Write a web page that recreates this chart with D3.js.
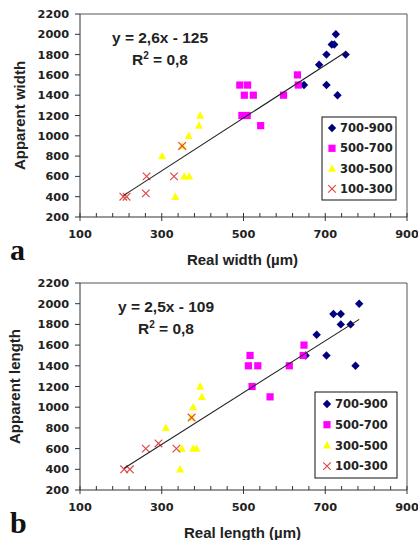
<!DOCTYPE html>
<html><head><meta charset="utf-8">
<script src="https://cdn.jsdelivr.net/npm/d3@7"></script>
<style>
html,body{margin:0;padding:0;background:#fff;}
svg{display:block;}
</style></head>
<body>
<svg id="c" width="418" height="540"></svg>
<script>
// ---- data ----
const seriesNames = ["700-900", "500-700", "300-500", "100-300"];
const xTicks = [100, 300, 500, 700, 900];
const yTicks = [200, 400, 600, 800, 1000, 1200, 1400, 1600, 1800, 2000, 2200];

// chart a : real width vs apparent width
const widthBlue = [[726,2000],[716,1900],[722,1900],[703,1800],[750,1800],[685,1700],[648,1500],[703,1500],[730,1400]];
const widthMagenta = [[491,1500],[510,1500],[632,1600],[634,1500],[502,1400],[524,1400],[598,1400],[496,1200],[509,1200],[542,1100]];
const widthYellow = [[394,1200],[391,1100],[366,1000],[350,900],[301,800],[355,600],[367,600],[333,400]];
const widthRed = [[206,400],[214,400],[261,433],[263,600],[330,600],[350,900]];
const widthFit = {slope: 2.6, intercept: -125, label: "y = 2,6x - 125", r2: "0,8"};

// chart b : real length vs apparent length
const lengthBlue = [[783,2000],[720,1900],[738,1900],[738,1800],[762,1800],[679,1700],[652,1500],[703,1500],[774,1400]];
const lengthMagenta = [[516,1500],[512,1400],[535,1400],[648,1600],[646,1500],[612,1400],[521,1200],[565,1100]];
const lengthYellow = [[394,1200],[398,1100],[377,1000],[373,900],[310,800],[349,600],[377,600],[385,600],[345,400]];
const lengthRed = [[208,400],[222,400],[261,600],[292,650],[336,600],[373,900]];
const lengthFit = {slope: 2.5, intercept: -109, label: "y = 2,5x - 109", r2: "0,8"};

const svg = d3.select("#c");
const colors = ["#000080", "#ff00ff", "#ffff00", "#e04848"];
const tickFont = "'DejaVu Sans', sans-serif";
const titleFont = "'Liberation Sans', Arial, sans-serif";

function marker(sel, kind) {
  if (kind === 0) {
    sel.append("path").attr("d", "M0,-4.2L4.2,0L0,4.2L-4.2,0Z").attr("fill", colors[0]);
  } else if (kind === 1) {
    sel.append("rect").attr("x", -3.6).attr("y", -3.6).attr("width", 7.2).attr("height", 7.2).attr("fill", colors[1]);
  } else if (kind === 2) {
    sel.append("path").attr("d", "M0,-4.4L4,3.2L-4,3.2Z").attr("fill", colors[2]);
  } else {
    sel.append("path").attr("d", "M-3.8,-3.8L3.8,3.8M-3.8,3.8L3.8,-3.8").attr("stroke", colors[3]).attr("stroke-width", 1.2).attr("fill", "none");
  }
}

function drawChart(cfg) {
  const g = svg.append("g");
  const x = d3.scaleLinear().domain([100, 900]).range([cfg.left, cfg.right]);
  const y = d3.scaleLinear().domain([200, 2200]).range([cfg.bottom, cfg.top]);

  // plot border (top/right)
  g.append("path")
    .attr("d", `M${cfg.left},${cfg.top}H${cfg.right}V${cfg.bottom}`)
    .attr("stroke", "#555").attr("fill", "none").attr("stroke-width", 1);

  // x axis
  const minor = d3.range(100, 901, 40).filter(v => !xTicks.includes(v));
  const xa = g.append("g").attr("transform", `translate(0,${cfg.bottom})`);
  xa.append("line").attr("x1", cfg.left).attr("x2", cfg.right).attr("stroke", "#333");
  xa.selectAll(".mi").data(minor).join("line")
    .attr("x1", d => x(d)).attr("x2", d => x(d)).attr("y1", 0).attr("y2", -4).attr("stroke", "#333");
  xa.selectAll(".ma").data(xTicks).join("line")
    .attr("x1", d => x(d)).attr("x2", d => x(d)).attr("y1", -4).attr("y2", 4).attr("stroke", "#333");
  xa.selectAll("text").data(xTicks).join("text")
    .attr("x", d => x(d)).attr("y", 21).attr("text-anchor", "middle")
    .attr("font-family", tickFont).attr("font-weight", "bold").attr("font-size", 11.3).attr("fill", "#222")
    .text(d => d);

  // y axis
  const ya = g.append("g").attr("transform", `translate(${cfg.left},0)`);
  ya.append("line").attr("y1", cfg.top).attr("y2", cfg.bottom).attr("stroke", "#333");
  ya.selectAll("line.t").data(yTicks).join("line").attr("class", "t")
    .attr("x1", -5).attr("x2", 0).attr("y1", d => y(d)).attr("y2", d => y(d)).attr("stroke", "#333");
  ya.selectAll("text").data(yTicks).join("text")
    .attr("x", -11).attr("y", d => y(d)).attr("dy", "0.36em").attr("text-anchor", "end")
    .attr("font-family", tickFont).attr("font-weight", "bold").attr("font-size", 11.3).attr("fill", "#222")
    .text(d => d);

  // axis titles
  g.append("text").attr("x", (cfg.left + cfg.right) / 2 - 1).attr("y", cfg.bottom + 48)
    .attr("text-anchor", "middle").attr("font-family", titleFont).attr("font-weight", "bold")
    .attr("font-size", 15).attr("fill", "#222").text(cfg.xTitle);
  g.append("text").attr("transform", `translate(${cfg.yTitleX},${(cfg.top + cfg.bottom) / 2}) rotate(-90)`)
    .attr("text-anchor", "middle").attr("font-family", titleFont).attr("font-weight", "bold")
    .attr("font-size", 15).attr("fill", "#222").text(cfg.yTitle);

  // panel letter
  g.append("text").attr("x", cfg.letterX).attr("y", cfg.bottom + 43)
    .attr("font-family", "'Liberation Serif', 'Times New Roman', serif").attr("font-weight", "bold")
    .attr("font-size", 30).attr("fill", "#111").text(cfg.letter);

  // points
  cfg.series.forEach((data, k) => {
    g.append("g").selectAll("g").data(data).join("g")
      .attr("transform", d => `translate(${x(d[0])},${y(d[1])})`)
      .each(function () { marker(d3.select(this), k); });
  });

  // trend line
  const allX = cfg.series.flat().map(d => d[0]);
  const [x0, x1] = d3.extent(allX);
  g.append("line")
    .attr("x1", x(x0)).attr("y1", y(cfg.fit.slope * x0 + cfg.fit.intercept))
    .attr("x2", x(x1)).attr("y2", y(cfg.fit.slope * x1 + cfg.fit.intercept))
    .attr("stroke", "#222").attr("stroke-width", 1.1);

  // equation
  const eq = g.append("g").attr("font-family", titleFont).attr("font-weight", "bold")
    .attr("font-size", 15.5).attr("fill", "#222").attr("text-anchor", "middle");
  eq.append("text").attr("x", cfg.eqX).attr("y", cfg.top + 29).text(cfg.fit.label);
  const r = eq.append("text").attr("x", cfg.eqX).attr("y", cfg.top + 51);
  r.append("tspan").text("R");
  r.append("tspan").attr("dy", -6).attr("font-size", 10).text("2");
  r.append("tspan").attr("dy", 6).text(" = " + cfg.fit.r2);

  // legend
  const lg = g.append("g").attr("transform", `translate(${cfg.legX},${cfg.legY})`);
  lg.append("rect").attr("width", cfg.legW).attr("height", cfg.legH)
    .attr("fill", "#fff").attr("stroke", "#111").attr("stroke-width", 1);
  seriesNames.forEach((name, k) => {
    const row = lg.append("g").attr("transform", `translate(${cfg.legMX},${cfg.legRow0 + k * cfg.legStep})`);
    marker(row, k);
    row.append("text").attr("x", 8).attr("dy", "0.36em")
      .attr("font-family", tickFont).attr("font-weight", "bold").attr("font-size", 11.5).attr("fill", "#222")
      .text(name);
  });
}

drawChart({left: 80, right: 407, top: 14, bottom: 217,
  series: [widthBlue, widthMagenta, widthYellow, widthRed], fit: widthFit,
  xTitle: "Real width (µm)", yTitle: "Apparent width", yTitleX: 25, letter: "a", letterX: 10,
  eqX: 160, legX: 322, legY: 117, legW: 74, legH: 83, legRow0: 11, legStep: 20.3, legMX: 10});

drawChart({left: 80, right: 407, top: 283, bottom: 490,
  series: [lengthBlue, lengthMagenta, lengthYellow, lengthRed], fit: lengthFit,
  xTitle: "Real length (µm)", yTitle: "Apparent length", yTitleX: 20, letter: "b", letterX: 10,
  eqX: 166, legX: 315, legY: 392, legW: 82, legH: 86, legRow0: 12, legStep: 20.7, legMX: 12});
</script>
</body></html>
